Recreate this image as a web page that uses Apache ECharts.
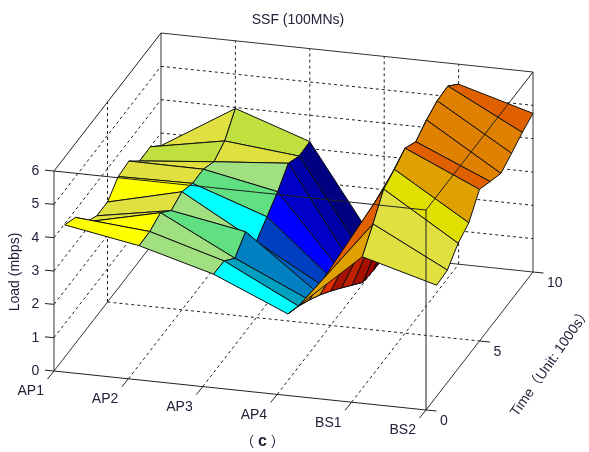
<!DOCTYPE html>
<html>
<head>
<meta charset="utf-8">
<style>html,body{margin:0;padding:0;background:#fff}#c{width:589px;height:452px}</style>
<script src="https://cdn.jsdelivr.net/npm/echarts@6/dist/echarts.min.js"></script>
</head>
<body>
<div id="c"></div>
<script>
// ---------- data ----------
const nodes = ['AP1', 'AP2', 'AP3', 'AP4', 'BS1', 'BS2'];
const timeSteps = [1, 2, 3, 4, 5, 6, 7, 8, 9, 10];
const zTicks = [0, 1, 2, 3, 4, 5, 6];
const timeTicks = [0, 5, 10];

const loadAP1 = [3.97, 3.78, 3.23, 3.00, 3.00, 3.35, 3.40, 2.99, 3.00, 2.62];
const loadAP2 = [3.58, 3.59, 3.74, 3.39, 3.54, 3.38, 3.39, 3.20, 3.41, 3.97];
const loadAP3 = [2.96, 2.94, 2.61, 2.99, 2.28, 2.61, 2.95, 3.39, 3.19, 3.21];
const loadAP4 = [2.00, 1.82, 1.59, 1.33, 1.03, 0.71, 0.38, 0.05, 0.00, 0.00];
const loadBS1 = [3.95, 4.52, 5.15, 5.33, 5.55, 5.33, 5.57, 5.73, 5.76, 5.40];
const loadBS2 = [3.33, 3.37, 3.76, 3.96, 4.55, 4.37, 4.20, 4.39, 4.60, 4.76];
const loads = [loadAP1, loadAP2, loadAP3, loadAP4, loadBS1, loadBS2];

// colour level of each patch (one strip per node pair, one entry per time step)
const levelAP1 = [13, 13, 12, 12, 13, 12, 12, 11, 12];
const levelAP2 = [10, 10, 9, 10, 8, 9, 10, 12, 11];
const levelAP3 = [8, 7, 6, 5, 4, 3, 2, 1, 0];
const levelAP4 = [15, 17, 15, 18, 21, 20, 21, 22, 23];
const levelBS1 = [12, 12, 14, 15, 17, 16, 16, 16, 17];
const levels = [levelAP1, levelAP2, levelAP3, levelAP4, levelBS1];

// ---------- look ----------
const palette = ['#000080', '#0000a8', '#0000c8', '#0000ff', '#0040c0', '#0060c0', '#0080c0', '#00a0c0',
  '#00ffff', '#60e080', '#a0e080', '#c0e040', '#e0e040', '#ffff00', '#e0e000', '#e0a000', '#e08000',
  '#e06000', '#e03000', '#d02000', '#c02000', '#a81000', '#a00000', '#800000'];
const font = '"Liberation Sans", "Noto Sans CJK SC", sans-serif';
const inkText = '#22223a';
const view = { ux: 74.4, vx: -7.8, ut: 10.7, vt: 13.8, vz: 33.33 };
const tMax = 10, zMax = 6, xMax = nodes.length - 1;

function project(x, t, z) {
  return [view.ux * x + view.ut * t, view.vx * x + view.vt * t + view.vz * z];
}

// ---------- walls, grid, ticks as segments in data space ----------
const backBox = [
  [0, 0, 0, 0, tMax, 0], [xMax, 0, 0, xMax, tMax, 0], [0, tMax, 0, xMax, tMax, 0],
  [0, tMax, 0, 0, tMax, zMax], [xMax, tMax, 0, xMax, tMax, zMax], [0, tMax, zMax, xMax, tMax, zMax],
  [0, 0, 0, 0, 0, zMax]
];
const frontBox = [
  [0, 0, 0, xMax, 0, 0], [0, 0, zMax, xMax, 0, zMax], [0, 0, zMax, 0, tMax, zMax],
  [xMax, 0, zMax, xMax, tMax, zMax], [xMax, 0, 0, xMax, 0, zMax]
];
const grid = [];
zTicks.slice(1, -1).forEach(z => {
  grid.push([0, tMax, z, xMax, tMax, z]);
  grid.push([0, 0, z, 0, tMax, z]);
});
nodes.forEach((n, i) => {
  if (i > 0 && i < xMax) {
    grid.push([i, tMax, 0, i, tMax, zMax]);
    grid.push([i, 0, 0, i, tMax, 0]);
  }
});
timeTicks.slice(1, -1).forEach(t => {
  grid.push([0, t, 0, 0, t, zMax]);
  grid.push([0, t, 0, xMax, t, 0]);
});

// surface patches, far to near so that nearer patches cover farther ones
const cells = [];
for (let j = timeSteps.length - 2; j >= 0; j--) {
  for (let i = 0; i < xMax; i++) cells.push([i, j]);
}

function segmentSeries(name, rows, z, style) {
  return {
    type: 'custom', name, z, silent: true, clip: false, animation: false,
    coordinateSystem: 'cartesian2d', data: rows.map((r, k) => [k, k]),
    renderItem(params, api) {
      const r = rows[api.value(0)];
      const a = api.coord(project(r[0], r[1], r[2]));
      const b = api.coord(project(r[3], r[4], r[5]));
      return { type: 'line', shape: { x1: a[0], y1: a[1], x2: b[0], y2: b[1] }, style };
    }
  };
}

function labelSeries(name, items, fn) {
  return {
    type: 'custom', name, z: 6, silent: true, clip: false, animation: false,
    coordinateSystem: 'cartesian2d', data: items.map((r, k) => [k, k]),
    renderItem(params, api) {
      const k = api.value(0);
      const d = fn(items[k], k);
      const p = api.coord(d.at);
      const q = [p[0] + d.tick[0], p[1] + d.tick[1]];
      return {
        type: 'group',
        children: [
          { type: 'line', shape: { x1: p[0], y1: p[1], x2: q[0], y2: q[1] }, style: { stroke: '#222', lineWidth: 1 } },
          { type: 'text', x: p[0] + d.off[0], y: p[1] + d.off[1],
            style: { text: String(items[k]), fill: inkText, font: '14px ' + font, textAlign: d.align || 'center', textVerticalAlign: 'middle' } }
        ]
      };
    }
  };
}

const option = {
  backgroundColor: '#fff',
  animation: false,
  title: {
    text: 'SSF (100MNs)', left: 293, top: 8, textAlign: 'center',
    textStyle: { fontFamily: font, fontSize: 14, fontWeight: 'normal', color: inkText }
  },
  grid: { left: 0, right: 0, top: 0, bottom: 0 },
  xAxis: { type: 'value', min: -54, max: 535, show: false },
  yAxis: { type: 'value', min: -81, max: 371, show: false },
  graphic: [
    { type: 'text', x: 15, y: 272, rotation: Math.PI / 2, silent: true, z: 10,
      style: { text: 'Load (mbps)', fill: inkText, font: '14px ' + font, textAlign: 'center', textVerticalAlign: 'middle' } },
    { type: 'text', x: 551, y: 362, rotation: 0.96, silent: true, z: 10,
      style: { text: 'Time（Unit: 1000s）', fill: inkText, font: '14px ' + font, textAlign: 'center', textVerticalAlign: 'middle' } },
    { type: 'text', x: 262.5, y: 442, silent: true, z: 10,
      style: { text: '（ {b|c} ）', fill: inkText, font: '14px ' + font, textAlign: 'center', textVerticalAlign: 'middle',
        rich: { b: { font: 'bold 16px ' + font, fill: inkText } } } }
  ],
  series: [
    segmentSeries('grid', grid, 1, { stroke: '#222', lineWidth: 1, lineDash: [3, 3] }),
    segmentSeries('backBox', backBox, 2, { stroke: '#333', lineWidth: 1 }),
    {
      type: 'custom', name: 'surface', z: 3, silent: true, clip: false, animation: false,
      coordinateSystem: 'cartesian2d', data: cells,
      renderItem(params, api) {
        const i = api.value(0), j = api.value(1);
        const corners = [[i, j], [i + 1, j], [i + 1, j + 1], [i, j + 1]];
        const points = corners.map(c => api.coord(project(c[0], timeSteps[c[1]], loads[c[0]][c[1]])));
        return {
          type: 'polygon', shape: { points },
          style: { fill: palette[levels[i][j]], stroke: '#111', lineWidth: 1, lineJoin: 'round' }
        };
      }
    },
    segmentSeries('frontBox', frontBox, 5, { stroke: '#222', lineWidth: 1 }),
    labelSeries('zLabels', zTicks, z => ({ at: project(0, 0, z), tick: [-9, -0.8], off: [-18.5, 0] })),
    labelSeries('xLabels', nodes, (n, i) => ({ at: project(i, 0, 0), tick: [-6.5, 8], off: [-23.3, 20.5] })),
    labelSeries('tLabels', timeTicks, t => ({ at: project(xMax, t, 0), tick: [10.5, 1], off: [14, 11], align: 'left' }))
  ]
};
const chart = echarts.init(document.getElementById('c'), null, { renderer: 'canvas' });
chart.setOption(option);
</script>
</body>
</html>
